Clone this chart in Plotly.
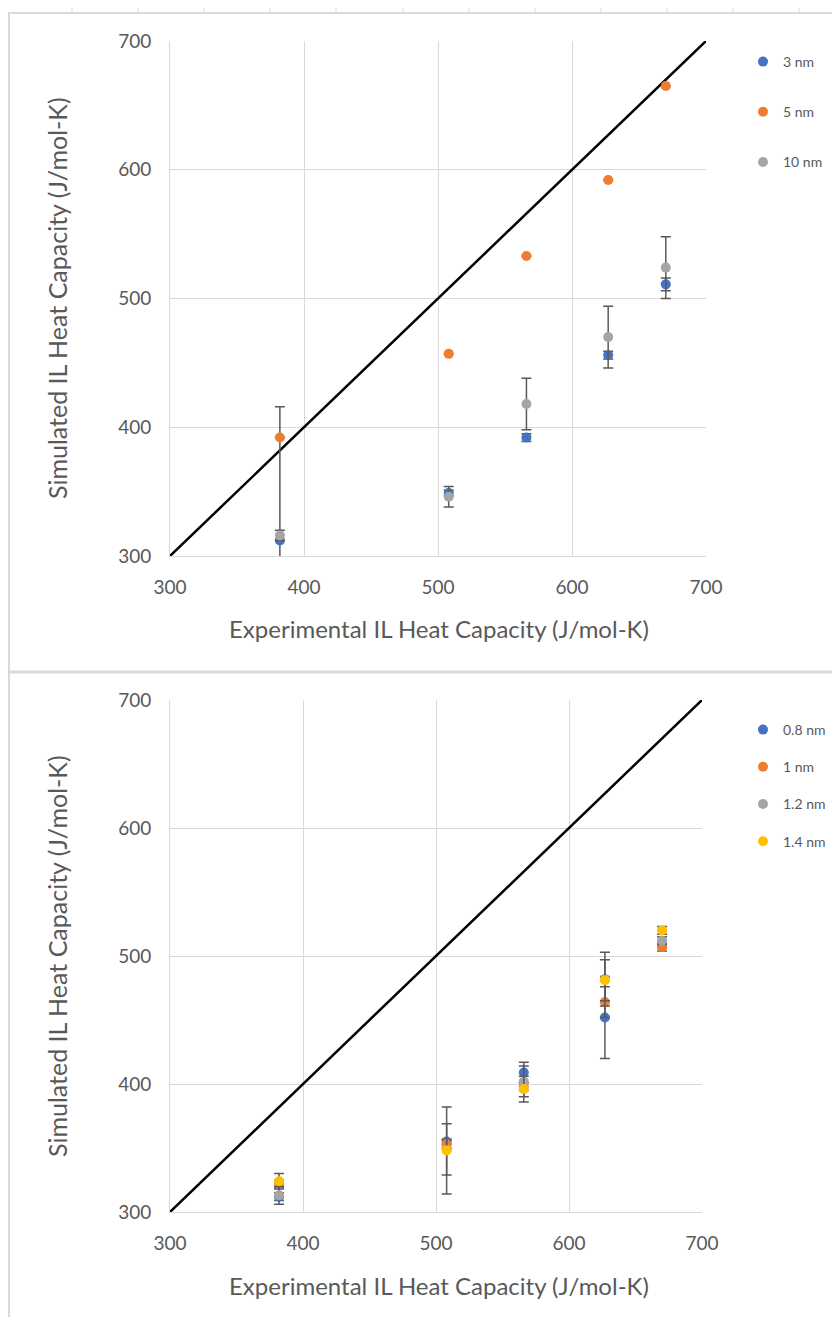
import plotly.graph_objects as go

# ---------------- data ----------------
exp_cp = [382, 508, 566, 627, 670]          # experimental IL heat capacity (x)
diag = [300, 700]                            # parity line

# top chart (pore sizes)
names_top = ["3 nm", "5 nm", "10 nm"]
sim_3nm = [312, 349, 392, 456, 511]
err_3nm = [104, 2, 3, 3, 5]
sim_5nm = [392, 457, 533, 592, 665]
err_5nm = [0, 0, 0, 0, 0]
sim_10nm = [316, 346, 418, 470, 524]
err_10nm = [4, 8, 20, 24, 24]

# bottom chart
names_bot = ["0.8 nm", "1 nm", "1.2 nm", "1.4 nm"]
sim_08 = [312, 355, 409, 452, 509]
err_08 = [3, 2, 8, 32, 3]
sim_10 = [322, 353, 398, 464, 507]
err_10 = [3, 3, 3, 12, 3]
sim_12 = [313, 349, 402, 482, 512]
err_12 = [7, 20, 12, 21, 3]
sim_14 = [324, 348, 396, 481, 520]
err_14 = [6, 34, 10, 16, 3]

tick_vals = [300, 400, 500, 600, 700]
x_title = "Experimental IL Heat Capacity (J/mol-K)"
y_title = "Simulated IL Heat Capacity (J/mol-K)"

colors = ["#4472C4", "#ED7D31", "#A5A5A5", "#FFC000"]
FONT = "Lato"
OFF = 8                      # default page body margin
W, H = 840 - OFF, 1325 - 2 * OFF

fig = go.Figure()

def add_series(xa, ya, leg, names, ys, errs):
    fig.add_trace(go.Scatter(x=diag, y=diag, mode="lines", xaxis=xa, yaxis=ya,
                             line=dict(color="black", width=2.5), showlegend=False,
                             hoverinfo="skip"))
    for i, (nm, yv, ev) in enumerate(zip(names, ys, errs)):
        fig.add_trace(go.Scatter(
            x=exp_cp, y=yv, mode="markers", name=nm, xaxis=xa, yaxis=ya,
            legend=leg, legendgroup=leg + nm,
            marker=dict(color=colors[i], size=10),
            error_y=dict(type="data", array=ev, visible=True, color="#595959",
                         thickness=1.5, width=5)))

add_series("x", "y", "legend", names_top, [sim_3nm, sim_5nm, sim_10nm],
           [err_3nm, err_5nm, err_10nm])
add_series("x2", "y2", "legend2", names_bot, [sim_08, sim_10, sim_12, sim_14],
           [err_08, err_10, err_12, err_14])

def px_x(p):
    return (p - OFF) / W

def px_y(p):
    return 1 - (p - OFF) / H

grid = "#D9D9D9"
tickfont = dict(family=FONT, size=19, color="#595959")
axis_common = dict(range=[300, 700], tickvals=tick_vals, showgrid=True, gridcolor=grid,
                   gridwidth=1, zeroline=False, showline=True, linecolor=grid,
                   linewidth=1, tickfont=tickfont, ticks="", automargin=False)

legfont = dict(family=FONT, size=14, color="#595959")
fig.update_layout(
    template="none",
    width=W, height=H, margin=dict(l=0, r=0, t=0, b=0, pad=0, autoexpand=False),
    paper_bgcolor="white", plot_bgcolor="white",
    xaxis=dict(domain=[px_x(170), px_x(706)], anchor="y", ticklabelstandoff=14, **axis_common),
    yaxis=dict(domain=[px_y(556), px_y(41)], anchor="x", ticklabelstandoff=14, **axis_common),
    xaxis2=dict(domain=[px_x(170), px_x(702)], anchor="y2", ticklabelstandoff=14, **axis_common),
    yaxis2=dict(domain=[px_y(1212), px_y(700)], anchor="x2", ticklabelstandoff=14, **axis_common),
    legend=dict(x=px_x(743), y=px_y(46), xanchor="left", yanchor="top", font=legfont,
                tracegroupgap=29, itemwidth=30, bgcolor="rgba(0,0,0,0)"),
    legend2=dict(x=px_x(743), y=px_y(714), xanchor="left", yanchor="top", font=legfont,
                 tracegroupgap=16, itemwidth=30, bgcolor="rgba(0,0,0,0)"),
    showlegend=True,
)

anns = [
    dict(text=x_title, x=px_x(439), y=px_y(628), size=24),
    dict(text=x_title, x=px_x(439), y=px_y(1285), size=24),
    dict(text=y_title, x=px_x(57), y=px_y(298), textangle=-90, size=25),
    dict(text=y_title, x=px_x(57), y=px_y(956), textangle=-90, size=25),
]
for a in anns:
    sz = a.pop("size")
    fig.add_annotation(xref="paper", yref="paper", showarrow=False,
                       xanchor="center", yanchor="middle",
                       font=dict(family=FONT, size=sz, color="#595959"), **a)

# sheet frame lines (screenshot border)
frame = "#D9D9D9"
fig.add_shape(type="line", xref="paper", yref="paper", x0=px_x(OFF), x1=1,
              y0=px_y(13), y1=px_y(13), line=dict(color=frame, width=2))
fig.add_shape(type="line", xref="paper", yref="paper", x0=px_x(OFF), x1=1,
              y0=px_y(672), y1=px_y(672), line=dict(color=frame, width=3))
fig.add_shape(type="line", xref="paper", yref="paper", x0=px_x(OFF + 1), x1=px_x(OFF + 1),
              y0=px_y(13), y1=0, line=dict(color=frame, width=2))
for tx in [72, 138, 204, 270, 336, 403, 469, 535, 601, 667, 733, 799]:
    fig.add_shape(type="line", xref="paper", yref="paper", x0=px_x(tx), x1=px_x(tx),
                  y0=px_y(13), y1=px_y(8), line=dict(color=frame, width=1))

fig.write_html("out.html")
